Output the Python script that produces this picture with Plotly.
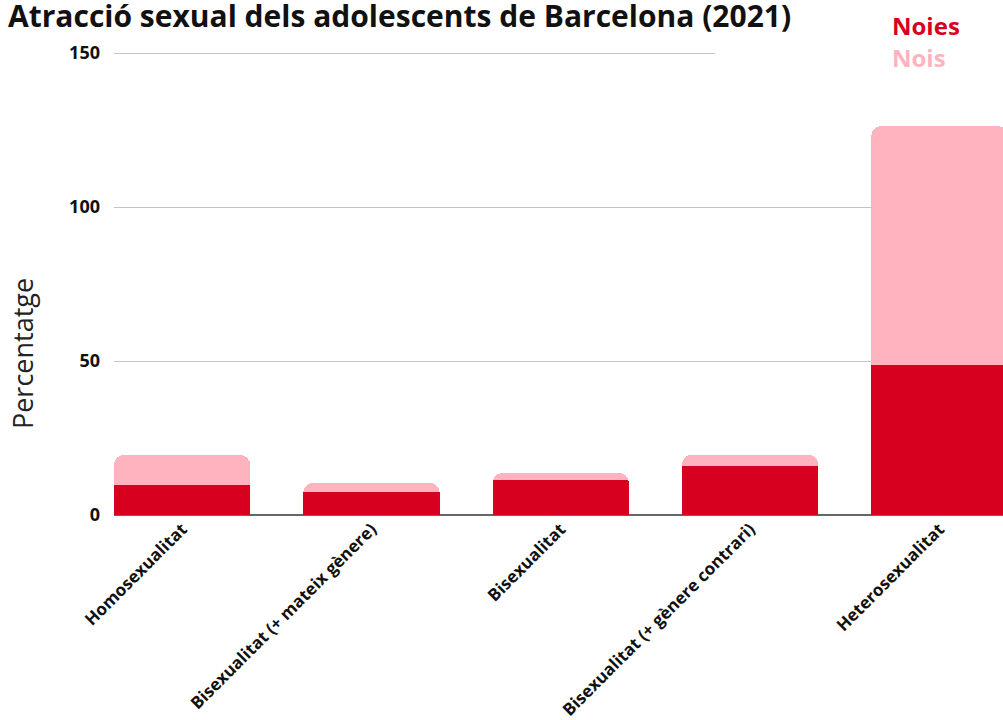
import plotly.graph_objects as go

categories = [
    "Homosexualitat",
    "Bisexualitat (+ mateix gènere)",
    "Bisexualitat",
    "Bisexualitat (+ gènere contrari)",
    "Heterosexualitat",
]
noies = [9.8, 7.6, 11.4, 15.8, 48.8]
nois = [9.7, 2.8, 2.2, 3.8, 77.5]
y_ticks = [0, 50, 100, 150]

RED = "#d7001f"
PINK = "#ffb3bf"
FONT = "Open Sans"

fig = go.Figure()
fig.add_trace(go.Bar(x=categories, y=noies, name="Noies", marker_color=RED,
                     marker_line_width=0, showlegend=False))
fig.add_trace(go.Bar(x=categories, y=nois, name="Nois", marker_color=PINK,
                     marker_line_width=0, showlegend=False))

fig.update_layout(
    width=1003, height=720,
    barmode="stack",
    bargap=0.28,
    barcornerradius=10,
    paper_bgcolor="white",
    plot_bgcolor="white",
    margin=dict(l=114, r=0, t=47, b=205, autoexpand=False),
    font=dict(family=FONT, color="#111"),
    title=dict(text="<b>Atracció sexual dels adolescents de Barcelona (2021)</b>",
               x=0.008, xanchor="left", y=0.992, yanchor="top",
               font=dict(size=30, color="#111")),
    xaxis=dict(range=[-0.36, 4.336], tickangle=-45,
               tickfont=dict(size=17, family=FONT, weight="bold", color="#111"),
               showgrid=False, showline=False, ticks="", automargin=False),
    yaxis=dict(range=[0, 152], tickvals=y_ticks,
               tickfont=dict(size=18, family=FONT, weight="bold", color="#111"),
               gridcolor="#c4c4c4", gridwidth=1,
               zeroline=True, zerolinecolor="#666", zerolinewidth=1.5,
               ticklabelstandoff=13, automargin=False),
    showlegend=False,
)

# y axis title, placed lower than the plot centre as in the original
fig.add_annotation(text="Percentatge", xref="paper", yref="paper",
                   x=-0.1035, y=0.346, textangle=-90, showarrow=False,
                   xanchor="center", yanchor="middle",
                   font=dict(size=27, color="#222"))

# legend labels, coloured like the series (no symbols)
fig.add_annotation(text="<b>Noies</b>", xref="paper", yref="paper",
                   x=0.873, y=1.047, xanchor="left", yanchor="middle",
                   showarrow=False, font=dict(size=24, color=RED))
fig.add_annotation(text="<b>Nois</b>", xref="paper", yref="paper",
                   x=0.873, y=0.9765, xanchor="left", yanchor="middle",
                   showarrow=False, font=dict(size=24, color=PINK))
# legend box background hides the end of the top gridline
fig.add_shape(type="rect", xref="paper", yref="paper",
              x0=0.676, x1=1.0, y0=0.978, y1=0.996,
              fillcolor="white", line_width=0, layer="above")

fig.write_html("out.html", config={"displayModeBar": False},
               post_script="document.body.style.margin='0';")
